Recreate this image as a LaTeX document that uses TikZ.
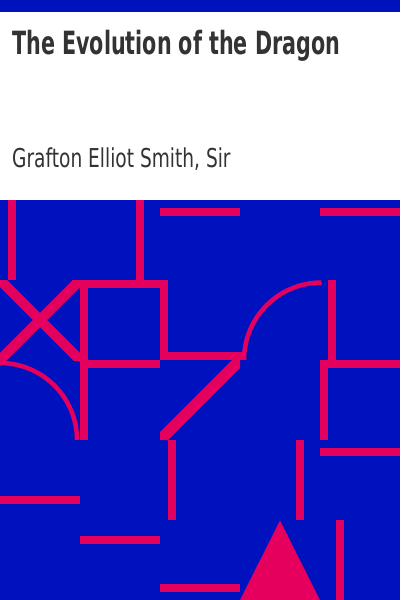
\documentclass[tikz,border=0pt]{standalone}
\usepackage{fontspec}
\newfontfamily\titlefont{DejaVu Sans}[FakeStretch=0.646]
\newfontfamily\authorfont{DejaVu Sans}[FakeStretch=0.715]
\definecolor{bgblue}{HTML}{0012BE}
\definecolor{mag}{HTML}{E5005E}
\definecolor{txt}{HTML}{333333}
\begin{document}
\begin{tikzpicture}[x=1pt,y=-1pt,
  bar/.style={fill=mag,draw=none},
  arcline/.style={draw=mag,line width=4.5pt},
  txtnode/.style={inner sep=0pt,anchor=base west,text=txt}]
\useasboundingbox (0,0) rectangle (400,600);
% backgrounds
\fill[white] (0,0) rectangle (400,600);
\fill[bgblue] (0,0) rectangle (400,12);
\fill[bgblue] (0,200) rectangle (400,600);
% texts
\node[txtnode,font=\titlefont\bfseries\fontsize{32pt}{36pt}\selectfont] (title) at (12,54) {The Evolution of the Dragon};
\node[txtnode,font=\authorfont\fontsize{26pt}{30pt}\selectfont] (author) at (12,167) {Grafton Elliot Smith, Sir};
% row 1 (200-280)
\fill[bar] (8,200) rectangle (16,280);
\fill[bar] (136,200) rectangle (144,280);
\fill[bar] (160,208) rectangle (240,216);
\fill[bar] (320,208) rectangle (400,216);
% X shape
\begin{scope}
\clip (0,280) rectangle (80,360);
\draw[mag,line width=10pt] (-10,270) -- (90,370);
\draw[mag,line width=10pt] (90,270) -- (-10,370);
\end{scope}
% square-ish
\fill[bar] (72,280) rectangle (168,288);
\fill[bar] (160,280) rectangle (168,360);
\fill[bar] (160,352) rectangle (246,360);
\fill[bar] (80,280) rectangle (88,440);
\fill[bar] (80,360) rectangle (160,368);
% left arc
\draw[arcline] (0,363) arc[start angle=-90,end angle=0,radius=77];
% right arc
\draw[arcline] (244,360) arc[start angle=180,end angle=270,radius=77.5];
% diagonal
\fill[bar] (232,360) -- (240,360) -- (240,368) -- (168,440) -- (160,440) -- (160,432) -- cycle;
% right column
\fill[bar] (328,280) rectangle (336,360);
\fill[bar] (320,360) rectangle (400,368);
\fill[bar] (320,360) rectangle (328,440);
% row 4 (440-520)
\fill[bar] (168,440) rectangle (176,520);
\fill[bar] (296,440) rectangle (304,520);
\fill[bar] (320,448) rectangle (400,456);
\fill[bar] (0,496) rectangle (80,504);
% row 5 (520-600)
\fill[bar] (80,536) rectangle (160,544);
\fill[bar] (160,584) rectangle (240,592);
\fill[bar] (336,520) rectangle (344,600);
\fill[mag] (240,600) -- (280,520.5) -- (320,600) -- cycle;
\end{tikzpicture}
\end{document}
